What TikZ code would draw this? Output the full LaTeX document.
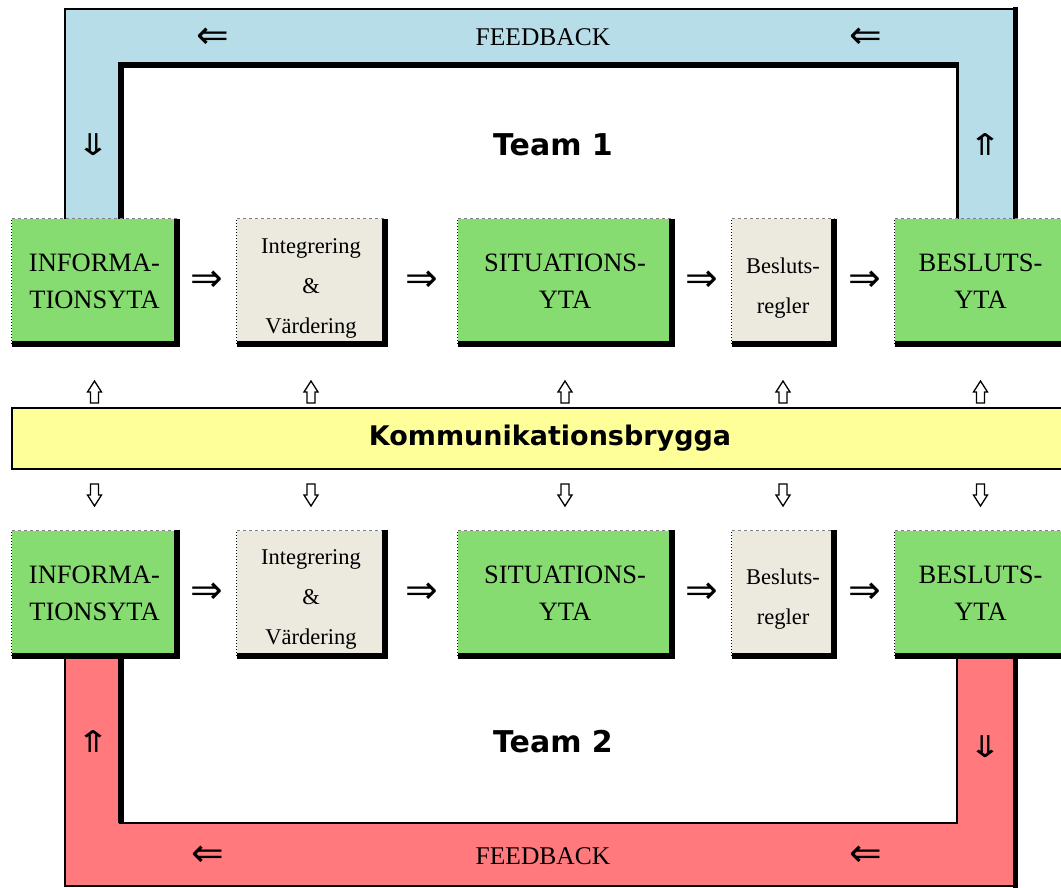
\documentclass[tikz,border=0pt]{standalone}
\usepackage{fontspec}
\setmainfont{Liberation Serif}
\setsansfont{DejaVu Sans}
\newfontfamily\arrowfont{DejaVu Sans}
\usetikzlibrary{calc}
\definecolor{bandblue}{HTML}{B7DEE8}
\definecolor{bandred}{HTML}{FF797D}
\definecolor{areagreen}{HTML}{86DC70}
\definecolor{rulebeige}{HTML}{ECE9DF}
\definecolor{bridgeyellow}{HTML}{FFFF99}
\newcommand\lowstrut{\rule{0pt}{28pt}}

\begin{document}
\begin{tikzpicture}[x=1pt,y=-1pt,
  area/.style={fill=areagreen,inner sep=0pt,minimum height=125pt,align=center,font=\fontsize{26.5}{37}\selectfont},
  rules/.style={fill=rulebeige,inner sep=0pt,minimum height=125pt,align=center,font=\fontsize{22.5}{40}\selectfont},
  hglyph/.style={inner sep=0pt,font=\arrowfont\fontsize{39}{39}\selectfont},
  vglyph/.style={inner sep=0pt,font=\arrowfont\fontsize{30}{30}\selectfont,xscale=1.35,transform shape},
  team/.style={font=\sffamily\bfseries\fontsize{30}{30}\selectfont},
  feedback/.style={font=\fontsize{25.5}{25.5}\selectfont},
  hollow arrow/.pic={\draw[line width=1.3pt,fill=white] (-4,11) -- (-4,0) -- (-7,0) -- (0,-11) -- (7,0) -- (4,0) -- (4,11) -- cycle;}]
\clip (0,0) rectangle (1061,887);
\fill[bandblue] (65,219) |- (1015,9) |- (957,219) |- (121,65) -- (121,219) -- cycle;
\draw[line width=2pt] (65,219) |- (1015,9);
\draw[line width=5pt] (1015,7) -- (1015,219);
\draw[line width=5.5pt] (121,219) |- (957,65);
\draw[line width=3pt] (957,62) -- (957,219);
\fill[bandred] (65,657) |- (1015,886) |- (957,657) |- (121,823) -- (121,657) -- cycle;
\draw[line width=2pt] (65,657) |- (1015,886);
\draw[line width=5pt] (1015,652) -- (1015,888);
\draw[line width=5.5pt] (121,652) -- (121,823);
\draw[line width=2.5pt] (119,823) -| (957,657);
\foreach \r/\y in {1/281.5,2/593} {
  \node[area,minimum width=165pt] (info\r) at (94.5,\y) {INFORMA-\\TIONSYTA};
  \node[rules,minimum width=148pt] (integ\r) at (311,\y) {\lowstrut Integrering\\\&\\Värdering};
  \node[area,minimum width=214pt] (sit\r) at (565,\y) {SITUATIONS-\\YTA};
  \node[rules,minimum width=102pt] (regel\r) at (783,\y) {\lowstrut Besluts-\\regler};
  \node[area,minimum width=171pt] (beslut\r) at (980.5,\y) {BESLUTS-\\YTA};
  \foreach \n in {info,integ,sit,regel,beslut} {
    \draw[dotted,line width=1pt] (\n\r.south west) -- (\n\r.north west);
    \draw[dashed,gray,line width=0.8pt] (\n\r.north west) -- (\n\r.north east);
    \draw[line width=6pt] (\n\r.north east) -- (\n\r.south east) -- (\n\r.south west);
  }
  \foreach \a/\b in {info/integ,integ/sit,sit/regel,regel/beslut}
    \node[hglyph] (\a-\b-\r) at ($(\a\r.east)!.5!(\b\r.west)$) {⇒};
}
\node[draw,line width=2.5pt,fill=bridgeyellow,minimum width=1076pt,minimum height=61pt,
  font=\sffamily\bfseries\fontsize{27}{27}\selectfont] (bridge) at (550,438.5) {Kommunikationsbrygga};
\foreach \n in {info,integ,sit,regel,beslut} {
  \path (\n1 |- 0,392) pic {hollow arrow};
  \path (\n1 |- 0,495) pic[rotate=180] {hollow arrow};
}
\node[team] (team1) at (553,145) {Team 1};
\node[team] (team2) at (553,742) {Team 2};
\node[feedback] (fb1) at (543,37) {FEEDBACK};
\node[feedback] (fb2) at (543,856) {FEEDBACK};
\node[hglyph] (back1a) at (213,38) {⇐};
\node[hglyph] (back1b) at (866,38) {⇐};
\node[hglyph] (back2a) at (208,856) {⇐};
\node[hglyph] (back2b) at (866,856) {⇐};
\node[vglyph] (down1) at (93,145) {⇓};
\node[vglyph] (up1) at (985,145) {⇑};
\node[vglyph] (up2) at (93,742) {⇑};
\node[vglyph] (down2) at (985,747) {⇓};
\end{tikzpicture}
\end{document}
